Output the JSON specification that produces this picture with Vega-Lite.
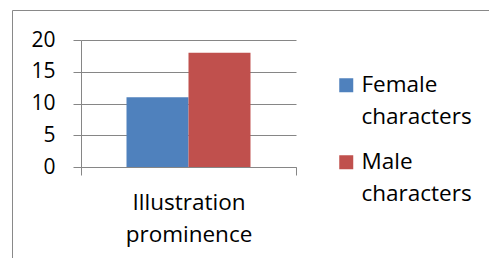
{
  "$schema": "https://vega.github.io/schema/vega-lite/v6.json",
  "width": 477,
  "height": 248,
  "autosize": "none",
  "padding": {"left": 12, "top": 10, "right": 0, "bottom": 0},
  "background": "white",
  "config": {
    "view": {"stroke": "#898989", "strokeWidth": 1},
    "font": "Open Sans"
  },
  "data": {"values": [
    {"category": "Illustration prominence", "series": "Female characters", "count": 11},
    {"category": "Illustration prominence", "series": "Male characters", "count": 18}
  ]},
  "mark": {"type": "bar"},
  "encoding": {
    "x": {
      "field": "category", "type": "nominal",
      "scale": {"range": [69, 284], "paddingInner": 0, "paddingOuter": 0},
      "axis": {
        "title": null, "orient": "bottom", "offset": -91,
        "labelExpr": "split(datum.label, ' ')", "labelAngle": 0,
        "tickBand": "extent", "tickSize": 8,
        "domainColor": "#868686", "tickColor": "#868686",
        "labelFont": "Open Sans", "labelFontSize": 22.5, "labelLineHeight": 32,
        "labelPadding": 16, "labelColor": "black", "grid": false
      }
    },
    "xOffset": {
      "field": "series", "type": "nominal",
      "sort": ["Female characters", "Male characters"],
      "scale": {"paddingInner": 0, "paddingOuter": 0.734}
    },
    "y": {
      "field": "count", "type": "quantitative",
      "scale": {"domain": [0, 20], "range": [157, 30], "nice": false, "zero": true},
      "axis": {
        "title": null, "values": [0, 5, 10, 15, 20], "offset": -69,
        "grid": true, "gridColor": "#868686", "domainColor": "#868686",
        "tickColor": "#868686", "tickSize": 8, "labelPadding": 18,
        "labelFont": "Open Sans", "labelFontSize": 21, "labelColor": "black"
      }
    },
    "color": {
      "field": "series", "type": "nominal",
      "scale": {"domain": ["Female characters", "Male characters"], "range": ["#4F81BD", "#C0504D"]},
      "legend": {
        "title": null, "orient": "none", "direction": "vertical",
        "legendX": 323, "legendY": 64,
        "symbolType": "square", "symbolSize": 196, "symbolStrokeWidth": 0,
        "symbolOpacity": 1,
        "labelExpr": "split(datum.label, ' ')",
        "labelFont": "Open Sans", "labelFontSize": 22.5,
        "labelOffset": 4, "rowPadding": 22, "labelLimit": 300,
        "padding": 0, "labelColor": "black",
        "encode": {
          "labels": {"update": {"lineHeight": {"value": 32}}}
        }
      }
    }
  }
}
